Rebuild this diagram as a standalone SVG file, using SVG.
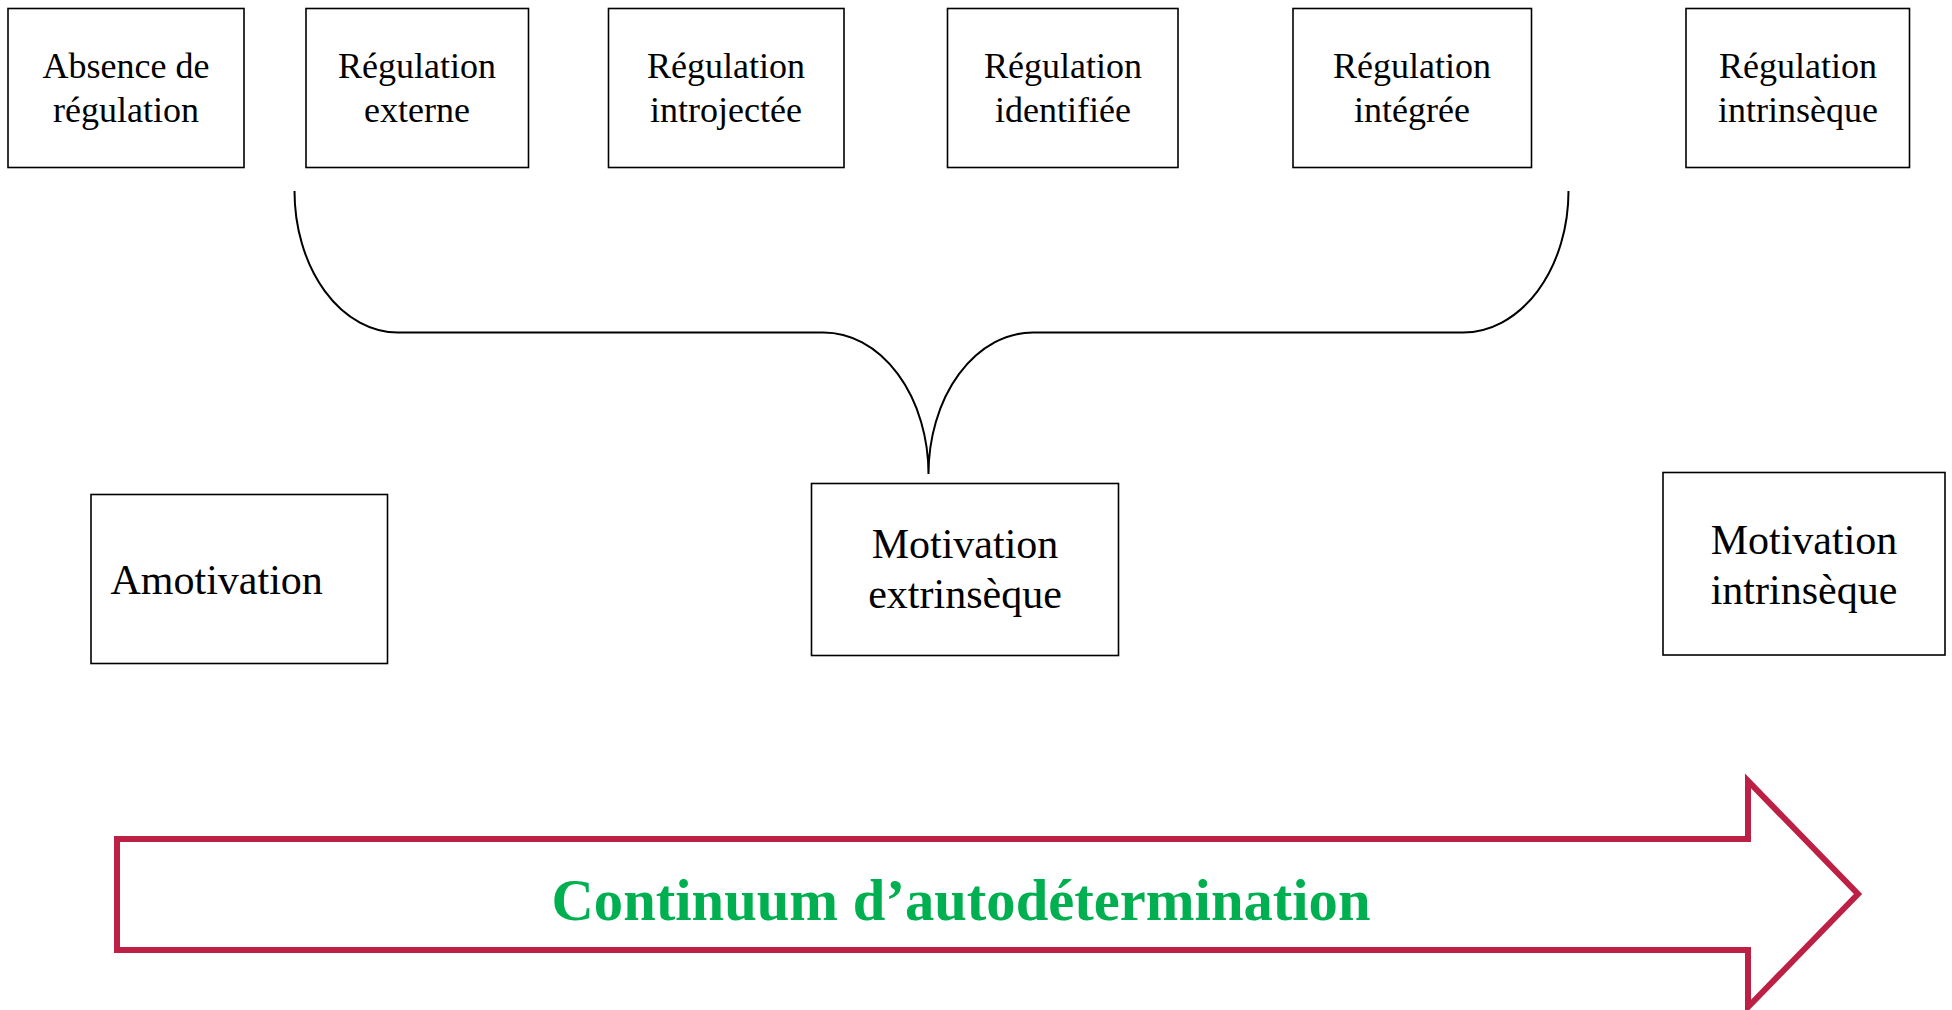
<svg xmlns="http://www.w3.org/2000/svg" width="1952" height="1010" viewBox="0 0 1952 1010">
<style>
.box{fill:#fff;stroke:#000;stroke-width:1.6}
.t{font-family:"Liberation Serif","Times New Roman",serif;font-size:36px;fill:#000;text-anchor:middle}
.tl{font-family:"Liberation Serif","Times New Roman",serif;font-size:42px;fill:#000;text-anchor:middle}
.conn{fill:none;stroke:#000;stroke-width:2}
</style>
<rect width="1952" height="1010" fill="#fff"/>
<g id="n1"><rect class="box" x="8" y="8.5" width="236" height="159"/><text class="t" x="126" y="77.5">Absence de</text><text class="t" x="126" y="121.5">régulation</text></g>
<g id="n2"><rect class="box" x="306" y="8.5" width="222.5" height="159"/><text class="t" x="417" y="77.5">Régulation</text><text class="t" x="417" y="121.5">externe</text></g>
<g id="n3"><rect class="box" x="608.5" y="8.5" width="235.5" height="159"/><text class="t" x="726" y="77.5">Régulation</text><text class="t" x="726" y="121.5">introjectée</text></g>
<g id="n4"><rect class="box" x="947.5" y="8.5" width="230.5" height="159"/><text class="t" x="1063" y="77.5">Régulation</text><text class="t" x="1063" y="121.5">identifiée</text></g>
<g id="n5"><rect class="box" x="1293" y="8.5" width="238.5" height="159"/><text class="t" x="1412" y="77.5">Régulation</text><text class="t" x="1412" y="121.5">intégrée</text></g>
<g id="n6"><rect class="box" x="1686" y="8.5" width="223.5" height="159"/><text class="t" x="1798" y="77.5">Régulation</text><text class="t" x="1798" y="121.5">intrinsèque</text></g>
<g id="n7"><rect class="box" x="91" y="494.5" width="296.5" height="169"/><text class="tl" x="110.5" y="594" text-anchor="start" style="text-anchor:start">Amotivation</text></g>
<g id="n8"><rect class="box" x="811.5" y="483.5" width="307" height="172"/><text class="tl" x="965" y="558">Motivation</text><text class="tl" x="965" y="608">extrinsèque</text></g>
<g id="n9"><rect class="box" x="1663" y="472.5" width="282" height="182.5"/><text class="tl" x="1804" y="553.5">Motivation</text><text class="tl" x="1804" y="603.5">intrinsèque</text></g>
<g id="connectors">
<path class="conn" d="M294.5,191 A103.5 141.5 0 0 0 398,332.5 L823.5,332.5 A105 141.5 0 0 1 928.5,474 A104.5 141.5 0 0 1 1033,332.5 L1463,332.5 A105.5 141.5 0 0 0 1568.5,191"/>
</g>
<g id="continuum">
<path d="M117,839 L1748,839 L1748,781 L1858,894 L1748,1007 L1748,950 L117,950 Z" fill="#fff" stroke="#BC2045" stroke-width="6"/>
<text x="961" y="920" font-family="'Liberation Serif','Times New Roman',serif" font-size="60" font-weight="bold" fill="#00B050" text-anchor="middle" textLength="819" lengthAdjust="spacingAndGlyphs">Continuum d’autodétermination</text>
</g>
</svg>
